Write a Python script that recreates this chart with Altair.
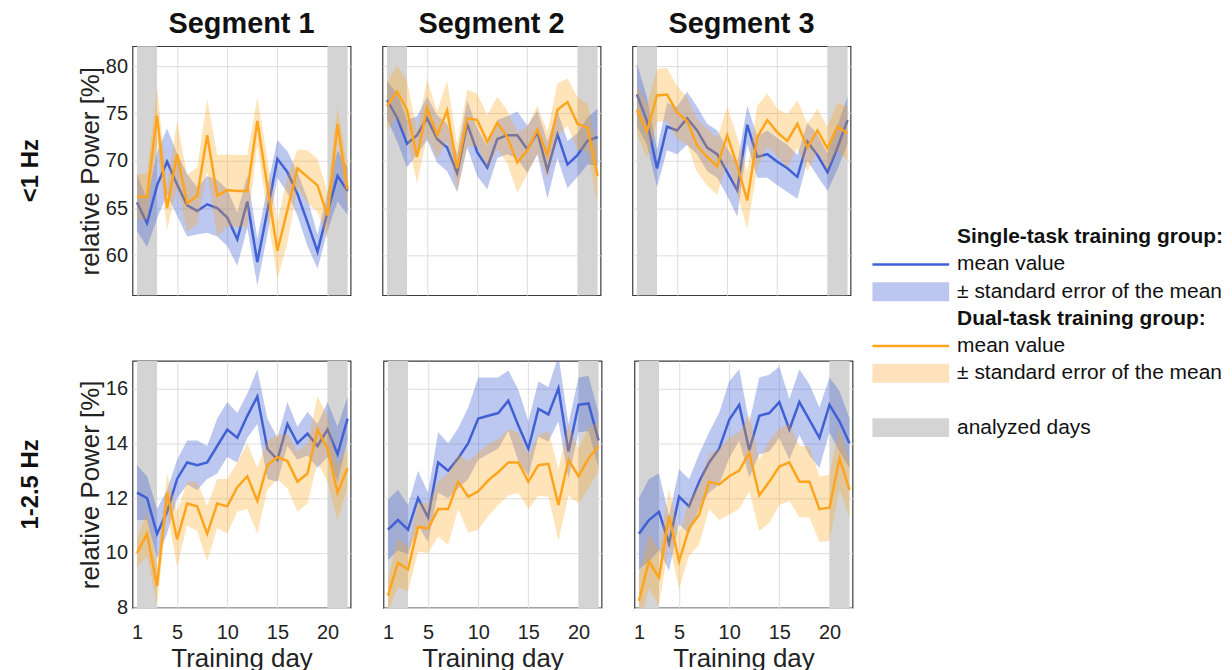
import altair as alt
import pandas as pd

DAYS = list(range(1, 23))
ANALYZED_START = [1, 20]
ANALYZED_END = [3, 22]
SEGMENTS = ["Segment 1", "Segment 2", "Segment 3"]
BANDS = ["<1 Hz", "1-2.5 Hz"]
X_TICKS = [1, 5, 10, 15, 20]
Y_TICKS_LOW = [60, 65, 70, 75, 80]
Y_TICKS_HIGH = [8, 10, 12, 14, 16]

# ---- <1 Hz ----
D1_S1_SINGLE_MEAN = [65.6, 63.4, 67.4, 69.9, 67.5, 65.3, 64.7, 65.4, 65.0, 64.0, 61.7, 65.7, 59.3, 64.7, 70.2, 68.8, 66.5, 63.5, 60.4, 64.6, 68.4, 66.8]
D1_S1_SINGLE_SEM = [3.0, 2.5, 3.5, 3.5, 3.3, 3.3, 2.5, 3.0, 3.0, 3.0, 2.8, 2.8, 2.5, 2.5, 2.0, 2.2, 2.3, 2.5, 1.8, 2.0, 2.7, 2.5]
D1_S1_DUAL_MEAN = [66.2, 66.2, 74.8, 65.0, 70.7, 65.5, 66.3, 72.7, 66.3, 66.9, 66.8, 66.8, 74.2, 67.3, 60.5, 64.8, 69.2, 68.3, 67.4, 64.2, 73.9, 67.0]
D1_S1_DUAL_SEM = [2.3, 2.5, 3.0, 2.3, 3.5, 3.0, 3.0, 3.8, 4.3, 3.8, 3.8, 3.8, 2.5, 3.0, 3.0, 3.5, 2.0, 2.8, 2.8, 2.5, 1.8, 2.3]

D1_S2_SINGLE_MEAN = [76.4, 74.6, 71.8, 72.7, 74.5, 72.3, 71.4, 68.7, 73.9, 70.9, 69.3, 72.3, 72.7, 72.7, 71.2, 73.0, 69.0, 72.8, 69.6, 70.6, 72.1, 72.5]
D1_S2_SINGLE_SEM = [2.0, 2.5, 2.5, 2.0, 2.3, 2.5, 2.5, 2.0, 2.5, 2.5, 2.3, 2.0, 2.0, 2.5, 2.5, 2.3, 3.0, 2.5, 2.5, 2.3, 2.5, 3.0]
D1_S2_DUAL_MEAN = [75.8, 77.3, 75.4, 70.4, 75.6, 72.7, 75.3, 69.2, 74.5, 74.3, 72.0, 74.0, 72.5, 69.8, 71.1, 73.3, 70.6, 75.4, 76.2, 73.9, 73.5, 68.4]
D1_S2_DUAL_SEM = [2.5, 2.8, 3.0, 2.8, 3.0, 2.5, 3.2, 2.5, 3.0, 2.8, 2.8, 2.8, 2.8, 3.2, 2.5, 2.5, 2.5, 2.8, 2.5, 2.8, 2.5, 3.0]

D1_S3_SINGLE_MEAN = [77.0, 74.2, 69.2, 73.6, 73.2, 74.5, 73.2, 71.4, 70.7, 68.8, 66.9, 73.8, 70.4, 70.7, 69.9, 69.2, 68.3, 72.0, 70.6, 68.8, 71.4, 74.3]
D1_S3_SINGLE_SEM = [3.3, 2.5, 2.0, 2.5, 2.5, 2.8, 2.5, 2.5, 2.5, 2.5, 2.8, 2.0, 2.2, 2.5, 2.5, 2.5, 2.3, 2.0, 2.2, 2.0, 2.3, 2.5]
D1_S3_DUAL_MEAN = [75.4, 73.1, 76.9, 77.0, 75.1, 74.2, 71.6, 70.4, 69.4, 72.7, 69.5, 65.8, 72.5, 74.3, 73.0, 72.1, 73.9, 71.4, 73.2, 71.3, 73.6, 72.9]
D1_S3_DUAL_SEM = [2.5, 2.8, 2.8, 2.8, 2.8, 2.5, 2.8, 3.0, 3.0, 3.0, 3.0, 3.0, 3.3, 2.8, 2.5, 2.8, 2.5, 2.5, 2.3, 2.3, 2.5, 2.8]

# ---- 1-2.5 Hz ----
D2_S1_SINGLE_MEAN = [12.2, 12.0, 10.7, 11.5, 12.7, 13.3, 13.2, 13.3, 13.9, 14.5, 14.2, 15.0, 15.7, 13.8, 13.4, 14.7, 14.0, 14.35, 13.9, 14.5, 13.6, 14.9]
D2_S1_SINGLE_SEM = [1.0, 0.8, 0.9, 0.8, 0.7, 0.8, 0.9, 0.6, 1.0, 1.0, 0.9, 0.8, 1.0, 1.1, 0.8, 0.8, 0.6, 0.8, 0.8, 1.0, 1.0, 0.8]
D2_S1_DUAL_MEAN = [10.0, 10.7, 8.8, 12.2, 10.5, 11.8, 11.7, 10.7, 11.8, 11.7, 12.4, 12.8, 11.9, 13.2, 13.5, 13.35, 12.6, 12.9, 14.5, 13.8, 12.2, 13.1]
D2_S1_DUAL_SEM = [0.5, 0.8, 0.7, 0.7, 1.0, 0.8, 0.9, 1.0, 0.9, 1.0, 0.9, 1.2, 1.2, 0.9, 0.8, 1.0, 1.1, 1.1, 1.2, 1.2, 1.0, 0.7]

D2_S2_SINGLE_MEAN = [10.85, 11.2, 10.85, 12.0, 11.3, 13.3, 13.0, 13.45, 14.0, 14.9, 15.0, 15.1, 15.55, 14.65, 13.8, 15.25, 15.05, 16.0, 13.7, 15.4, 15.45, 14.1]
D2_S2_SINGLE_SEM = [1.1, 1.1, 0.9, 1.0, 0.9, 1.1, 1.0, 1.1, 1.3, 1.5, 1.4, 1.3, 1.1, 1.3, 1.0, 1.0, 1.0, 1.2, 1.0, 1.0, 1.0, 1.0]
D2_S2_DUAL_MEAN = [8.45, 9.65, 9.4, 10.95, 10.9, 11.6, 11.6, 12.6, 12.05, 12.25, 12.65, 12.95, 13.3, 13.3, 12.6, 13.2, 13.25, 11.75, 13.4, 12.8, 13.45, 13.9]
D2_S2_DUAL_SEM = [0.6, 0.9, 0.8, 0.9, 0.9, 1.0, 1.3, 1.0, 1.3, 1.4, 1.3, 1.2, 1.2, 1.1, 1.0, 1.1, 1.2, 1.3, 1.3, 1.0, 1.1, 0.9]

D2_S3_SINGLE_MEAN = [10.7, 11.2, 11.5, 10.35, 12.05, 11.7, 12.6, 13.3, 13.8, 14.85, 15.4, 13.75, 15.0, 15.1, 15.5, 14.5, 15.5, 14.85, 14.2, 15.4, 14.8, 14.0]
D2_S3_SINGLE_SEM = [1.3, 1.5, 1.4, 1.0, 1.0, 1.0, 1.0, 1.1, 1.3, 1.4, 1.3, 1.0, 1.4, 1.4, 1.3, 1.1, 1.2, 1.3, 1.1, 1.0, 1.1, 0.9]
D2_S3_DUAL_MEAN = [8.25, 9.7, 9.1, 11.35, 9.7, 10.9, 11.4, 12.6, 12.5, 12.8, 13.0, 13.65, 12.1, 12.6, 13.15, 13.3, 12.6, 12.6, 11.6, 11.65, 13.45, 12.3]
D2_S3_DUAL_SEM = [0.9, 1.0, 1.0, 1.0, 1.0, 1.0, 1.1, 1.0, 1.3, 1.4, 1.4, 1.4, 1.3, 1.5, 1.4, 1.4, 1.3, 1.3, 1.2, 1.2, 1.1, 1.0]

LEGEND_TEXT = ["Single-task training group:", "mean value", "± standard error of the mean",
               "Dual-task training group:", "mean value", "± standard error of the mean",
               "analyzed days"]
LEGEND_ROW = [0, 1, 2, 3, 4, 5, 7]
LEGEND_KIND = ["head", "line", "band", "head", "line", "band", "band"]
LEGEND_KEY = ["none", "single_line", "single_band", "none", "dual_line", "dual_band", "analyzed"]

DATA = [
    [(D1_S1_SINGLE_MEAN, D1_S1_SINGLE_SEM, D1_S1_DUAL_MEAN, D1_S1_DUAL_SEM),
     (D1_S2_SINGLE_MEAN, D1_S2_SINGLE_SEM, D1_S2_DUAL_MEAN, D1_S2_DUAL_SEM),
     (D1_S3_SINGLE_MEAN, D1_S3_SINGLE_SEM, D1_S3_DUAL_MEAN, D1_S3_DUAL_SEM)],
    [(D2_S1_SINGLE_MEAN, D2_S1_SINGLE_SEM, D2_S1_DUAL_MEAN, D2_S1_DUAL_SEM),
     (D2_S2_SINGLE_MEAN, D2_S2_SINGLE_SEM, D2_S2_DUAL_MEAN, D2_S2_DUAL_SEM),
     (D2_S3_SINGLE_MEAN, D2_S3_SINGLE_SEM, D2_S3_DUAL_MEAN, D2_S3_DUAL_SEM)],
]

# ---- styles ----
BLUE = "#4060d4"
ORANGE = "#ffa41c"
GREY = "#d4d4d4"
BLUE_BAND_SOLID = "#bcc6f0"
ORANGE_BAND_SOLID = "#ffe2bc"
FONT = "Liberation Sans"
TXT = "#222222"
W = 219
HEIGHTS = [250, 248]
Y_DOMAINS = [[55.8, 82.1], [8, 17]]
Y_TICKS = [Y_TICKS_LOW, Y_TICKS_HIGH]
X_DOMAIN = [0.55, 22.3]


def panel(r, c):
    H = HEIGHTS[r]
    sm, ss, dm, ds = DATA[r][c]
    df = pd.DataFrame({
        "day": DAYS,
        "s_mean": sm,
        "s_lo": [m - s for m, s in zip(sm, ss)],
        "s_hi": [m + s for m, s in zip(sm, ss)],
        "d_mean": dm,
        "d_lo": [m - s for m, s in zip(dm, ds)],
        "d_hi": [m + s for m, s in zip(dm, ds)],
    })
    xscale = alt.Scale(domain=X_DOMAIN, nice=False, zero=False)
    yscale = alt.Scale(domain=Y_DOMAINS[r], nice=False, zero=False)
    xaxis = alt.Axis(values=X_TICKS, grid=True, ticks=False, domain=False,
                     labels=(r == 1), labelFlush=False, labelPadding=15,
                     titlePadding=3, labelFontSize=20, titleFontSize=26,
                     title="Training day" if r == 1 else None)
    yaxis = alt.Axis(values=Y_TICKS[r], grid=True, ticks=False, domain=False,
                     labels=(c == 0), labelPadding=5, titlePadding=2,
                     labelFontSize=20, titleFontSize=26,
                     title="relative Power [%]" if c == 0 else None)
    X = alt.X("day:Q", scale=xscale, axis=xaxis)

    grey = alt.Chart(pd.DataFrame({"start": ANALYZED_START, "end": ANALYZED_END})).mark_rect(
        color=GREY).encode(
        x=alt.X("start:Q", scale=xscale, axis=xaxis), x2="end:Q",
        y=alt.value(0), y2=alt.value(H))
    base = alt.Chart(df)
    s_area = base.mark_area(color=BLUE, opacity=0.35, clip=True).encode(
        x=X, y=alt.Y("s_lo:Q", scale=yscale, axis=yaxis), y2="s_hi:Q")
    s_line = base.mark_line(color=BLUE, strokeWidth=2.5, clip=True).encode(
        x=X, y=alt.Y("s_mean:Q", scale=yscale, axis=yaxis))
    d_area = base.mark_area(color=ORANGE, opacity=0.3, clip=True).encode(
        x=X, y=alt.Y("d_lo:Q", scale=yscale, axis=yaxis), y2="d_hi:Q")
    d_line = base.mark_line(color=ORANGE, strokeWidth=2.5, clip=True).encode(
        x=X, y=alt.Y("d_mean:Q", scale=yscale, axis=yaxis))
    ch = alt.layer(grey, s_area, s_line, d_area, d_line).properties(width=W, height=H)
    if r == 0:
        ch = ch.properties(title=alt.TitleParams(SEGMENTS[c], fontSize=29, fontWeight="bold",
                                                 anchor="middle", offset=7, color="#111111"))
    return ch


def row_label(r):
    H = HEIGHTS[r]
    return alt.Chart(pd.DataFrame({"t": [BANDS[r]]})).mark_text(
        angle=270, fontSize=24, fontWeight="bold", color="#111111",
        align="center", baseline="middle").encode(
        text="t:N", x=alt.value(22), y=alt.value(H / 2)
    ).properties(width=37, height=H, view=alt.ViewBackground(stroke="transparent"))


rows = []
for r in range(2):
    rows.append(alt.hconcat(row_label(r), *[panel(r, c) for c in range(3)], spacing=30))
grid = alt.vconcat(*rows, spacing=64)

leg_df = pd.DataFrame({"text": LEGEND_TEXT, "row": LEGEND_ROW, "kind": LEGEND_KIND, "key": LEGEND_KEY})
LY = alt.Y("row:Q", scale=alt.Scale(domain=[-7.03, 14.95], reverse=True, nice=False, zero=False), axis=None)
LCOLOR = alt.Color("key:N", scale=alt.Scale(
    domain=["single_line", "single_band", "dual_line", "dual_band", "analyzed"],
    range=[BLUE, BLUE_BAND_SOLID, ORANGE, ORANGE_BAND_SOLID, GREY]), legend=None)
lbase = alt.Chart(leg_df)
leg_lines = lbase.transform_filter("datum.kind == 'line'").mark_rule(strokeWidth=2.5).encode(
    x=alt.value(0), x2=alt.value(77), y=LY, color=LCOLOR)
leg_bands = lbase.transform_filter("datum.kind == 'band'").mark_rule(strokeWidth=19).encode(
    x=alt.value(0), x2=alt.value(77), y=LY, color=LCOLOR)
leg_head = lbase.transform_filter("datum.kind == 'head'").mark_text(
    align="left", baseline="middle", fontSize=21, fontWeight="bold", color="#111111").encode(
    x=alt.value(85), y=LY, text="text:N")
leg_text = lbase.transform_filter("datum.kind != 'head'").mark_text(
    align="left", baseline="middle", fontSize=21, color="#111111").encode(
    x=alt.value(85), y=LY, text="text:N")
legend = alt.layer(leg_bands, leg_lines, leg_head, leg_text).properties(
    width=345, height=600, view=alt.ViewBackground(stroke="transparent"))

chart = alt.hconcat(grid, legend, spacing=8).properties(padding=0).configure(
    font=FONT).configure_view(stroke="#3a3a3a", strokeWidth=1.2).configure_axis(
    labelColor=TXT, titleColor=TXT, gridColor="#dddddd", gridWidth=1,
    titleFontWeight="normal", labelFont=FONT, titleFont=FONT).configure_title(font=FONT)

chart.save("out.html", embed_options={"renderer": "svg", "actions": False})
